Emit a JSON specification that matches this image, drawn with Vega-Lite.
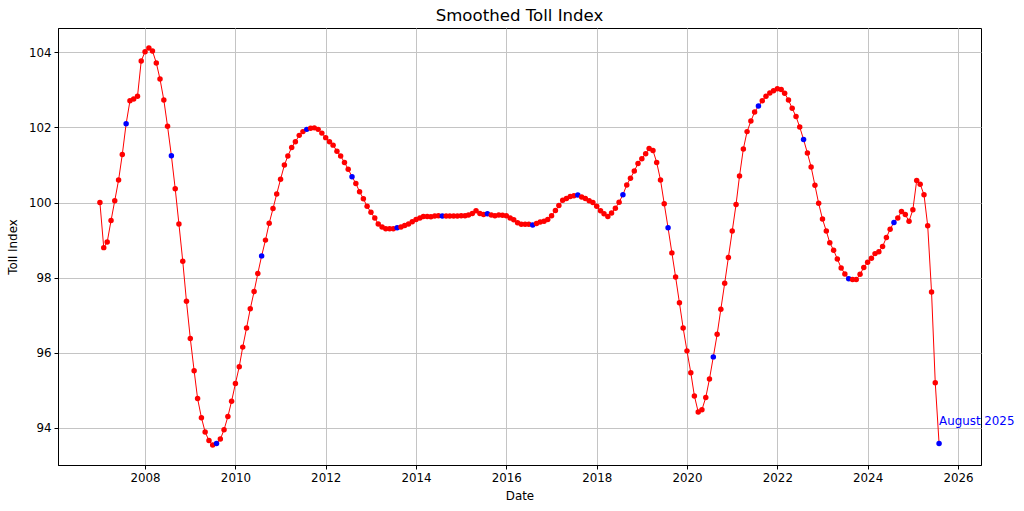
{
  "$schema": "https://vega.github.io/schema/vega-lite/v6.json",
  "width": 923,
  "height": 437,
  "autosize": "none",
  "padding": {"left": 58, "top": 28, "right": 43, "bottom": 46},
  "background": "white",
  "title": {"text": "Smoothed Toll Index", "fontSize": 16.6, "fontWeight": "normal", "font": "DejaVu Sans", "color": "black", "offset": 3, "anchor": "middle"},
  "config": {
    "font": "DejaVu Sans",
    "view": {"stroke": "black", "strokeWidth": 1},
    "axis": {
      "labelFont": "DejaVu Sans", "labelFontSize": 11.85, "labelColor": "black",
      "titleFont": "DejaVu Sans", "titleFontSize": 11.85, "titleFontWeight": "normal", "titleColor": "black",
      "tickColor": "black", "tickSize": 4, "labelPadding": 3,
      "domainColor": "black", "domainWidth": 1,
      "gridColor": "#c4c4c4", "gridWidth": 1
    }
  },
  "data": {"values": [
    {"date":"2007-01-01","value":100.0},{"date":"2007-02-01","value":98.8},{"date":"2007-03-01","value":98.95},{"date":"2007-04-01","value":99.52},{"date":"2007-05-01","value":100.05},{"date":"2007-06-01","value":100.6},{"date":"2007-07-01","value":101.28},{"date":"2007-08-01","value":102.1},{"date":"2007-09-01","value":102.71},{"date":"2007-10-01","value":102.76},{"date":"2007-11-01","value":102.83},{"date":"2007-12-01","value":103.77},
    {"date":"2008-01-01","value":104.02},{"date":"2008-02-01","value":104.12},{"date":"2008-03-01","value":104.04},{"date":"2008-04-01","value":103.72},{"date":"2008-05-01","value":103.29},{"date":"2008-06-01","value":102.73},{"date":"2008-07-01","value":102.03},{"date":"2008-08-01","value":101.25},{"date":"2008-09-01","value":100.37},{"date":"2008-10-01","value":99.43},{"date":"2008-11-01","value":98.44},{"date":"2008-12-01","value":97.37},
    {"date":"2009-01-01","value":96.38},{"date":"2009-02-01","value":95.52},{"date":"2009-03-01","value":94.78},{"date":"2009-04-01","value":94.27},{"date":"2009-05-01","value":93.89},{"date":"2009-06-01","value":93.66},{"date":"2009-07-01","value":93.54},{"date":"2009-08-01","value":93.58},{"date":"2009-09-01","value":93.7},{"date":"2009-10-01","value":93.95},{"date":"2009-11-01","value":94.3},{"date":"2009-12-01","value":94.71},
    {"date":"2010-01-01","value":95.18},{"date":"2010-02-01","value":95.63},{"date":"2010-03-01","value":96.15},{"date":"2010-04-01","value":96.66},{"date":"2010-05-01","value":97.17},{"date":"2010-06-01","value":97.63},{"date":"2010-07-01","value":98.11},{"date":"2010-08-01","value":98.58},{"date":"2010-09-01","value":99.0},{"date":"2010-10-01","value":99.45},{"date":"2010-11-01","value":99.84},{"date":"2010-12-01","value":100.23},
    {"date":"2011-01-01","value":100.62},{"date":"2011-02-01","value":101.0},{"date":"2011-03-01","value":101.24},{"date":"2011-04-01","value":101.47},{"date":"2011-05-01","value":101.62},{"date":"2011-06-01","value":101.79},{"date":"2011-07-01","value":101.89},{"date":"2011-08-01","value":101.95},{"date":"2011-09-01","value":101.98},{"date":"2011-10-01","value":101.99},{"date":"2011-11-01","value":101.95},{"date":"2011-12-01","value":101.85},
    {"date":"2012-01-01","value":101.73},{"date":"2012-02-01","value":101.62},{"date":"2012-03-01","value":101.53},{"date":"2012-04-01","value":101.37},{"date":"2012-05-01","value":101.24},{"date":"2012-06-01","value":101.07},{"date":"2012-07-01","value":100.89},{"date":"2012-08-01","value":100.69},{"date":"2012-09-01","value":100.51},{"date":"2012-10-01","value":100.29},{"date":"2012-11-01","value":100.1},{"date":"2012-12-01","value":99.9},
    {"date":"2013-01-01","value":99.74},{"date":"2013-02-01","value":99.59},{"date":"2013-03-01","value":99.43},{"date":"2013-04-01","value":99.35},{"date":"2013-05-01","value":99.3},{"date":"2013-06-01","value":99.3},{"date":"2013-07-01","value":99.3},{"date":"2013-08-01","value":99.33},{"date":"2013-09-01","value":99.35},{"date":"2013-10-01","value":99.39},{"date":"2013-11-01","value":99.43},{"date":"2013-12-01","value":99.49},
    {"date":"2014-01-01","value":99.55},{"date":"2014-02-01","value":99.59},{"date":"2014-03-01","value":99.63},{"date":"2014-04-01","value":99.63},{"date":"2014-05-01","value":99.62},{"date":"2014-06-01","value":99.64},{"date":"2014-07-01","value":99.65},{"date":"2014-08-01","value":99.64},{"date":"2014-09-01","value":99.64},{"date":"2014-10-01","value":99.64},{"date":"2014-11-01","value":99.64},{"date":"2014-12-01","value":99.64},
    {"date":"2015-01-01","value":99.65},{"date":"2015-02-01","value":99.65},{"date":"2015-03-01","value":99.67},{"date":"2015-04-01","value":99.71},{"date":"2015-05-01","value":99.78},{"date":"2015-06-01","value":99.71},{"date":"2015-07-01","value":99.68},{"date":"2015-08-01","value":99.7},{"date":"2015-09-01","value":99.67},{"date":"2015-10-01","value":99.65},{"date":"2015-11-01","value":99.67},{"date":"2015-12-01","value":99.66},
    {"date":"2016-01-01","value":99.65},{"date":"2016-02-01","value":99.59},{"date":"2016-03-01","value":99.54},{"date":"2016-04-01","value":99.46},{"date":"2016-05-01","value":99.42},{"date":"2016-06-01","value":99.42},{"date":"2016-07-01","value":99.42},{"date":"2016-08-01","value":99.4},{"date":"2016-09-01","value":99.44},{"date":"2016-10-01","value":99.48},{"date":"2016-11-01","value":99.5},{"date":"2016-12-01","value":99.55},
    {"date":"2017-01-01","value":99.65},{"date":"2017-02-01","value":99.79},{"date":"2017-03-01","value":99.92},{"date":"2017-04-01","value":100.06},{"date":"2017-05-01","value":100.11},{"date":"2017-06-01","value":100.16},{"date":"2017-07-01","value":100.18},{"date":"2017-08-01","value":100.2},{"date":"2017-09-01","value":100.15},{"date":"2017-10-01","value":100.11},{"date":"2017-11-01","value":100.05},{"date":"2017-12-01","value":100.0},
    {"date":"2018-01-01","value":99.9},{"date":"2018-02-01","value":99.78},{"date":"2018-03-01","value":99.7},{"date":"2018-04-01","value":99.63},{"date":"2018-05-01","value":99.72},{"date":"2018-06-01","value":99.85},{"date":"2018-07-01","value":100.01},{"date":"2018-08-01","value":100.21},{"date":"2018-09-01","value":100.47},{"date":"2018-10-01","value":100.65},{"date":"2018-11-01","value":100.84},{"date":"2018-12-01","value":101.04},
    {"date":"2019-01-01","value":101.17},{"date":"2019-02-01","value":101.3},{"date":"2019-03-01","value":101.44},{"date":"2019-04-01","value":101.39},{"date":"2019-05-01","value":101.07},{"date":"2019-06-01","value":100.6},{"date":"2019-07-01","value":99.97},{"date":"2019-08-01","value":99.33},{"date":"2019-09-01","value":98.66},{"date":"2019-10-01","value":98.02},{"date":"2019-11-01","value":97.33},{"date":"2019-12-01","value":96.66},
    {"date":"2020-01-01","value":96.05},{"date":"2020-02-01","value":95.47},{"date":"2020-03-01","value":94.85},{"date":"2020-04-01","value":94.42},{"date":"2020-05-01","value":94.48},{"date":"2020-06-01","value":94.81},{"date":"2020-07-01","value":95.3},{"date":"2020-08-01","value":95.89},{"date":"2020-09-01","value":96.49},{"date":"2020-10-01","value":97.16},{"date":"2020-11-01","value":97.85},{"date":"2020-12-01","value":98.54},
    {"date":"2021-01-01","value":99.24},{"date":"2021-02-01","value":99.95},{"date":"2021-03-01","value":100.71},{"date":"2021-04-01","value":101.43},{"date":"2021-05-01","value":101.89},{"date":"2021-06-01","value":102.17},{"date":"2021-07-01","value":102.41},{"date":"2021-08-01","value":102.57},{"date":"2021-09-01","value":102.71},{"date":"2021-10-01","value":102.83},{"date":"2021-11-01","value":102.92},{"date":"2021-12-01","value":102.98},
    {"date":"2022-01-01","value":103.03},{"date":"2022-02-01","value":103.01},{"date":"2022-03-01","value":102.91},{"date":"2022-04-01","value":102.73},{"date":"2022-05-01","value":102.51},{"date":"2022-06-01","value":102.29},{"date":"2022-07-01","value":102.01},{"date":"2022-08-01","value":101.68},{"date":"2022-09-01","value":101.32},{"date":"2022-10-01","value":100.95},{"date":"2022-11-01","value":100.46},{"date":"2022-12-01","value":99.98},
    {"date":"2023-01-01","value":99.56},{"date":"2023-02-01","value":99.24},{"date":"2023-03-01","value":98.93},{"date":"2023-04-01","value":98.73},{"date":"2023-05-01","value":98.5},{"date":"2023-06-01","value":98.26},{"date":"2023-07-01","value":98.1},{"date":"2023-08-01","value":97.97},{"date":"2023-09-01","value":97.95},{"date":"2023-10-01","value":97.95},{"date":"2023-11-01","value":98.09},{"date":"2023-12-01","value":98.27},
    {"date":"2024-01-01","value":98.41},{"date":"2024-02-01","value":98.52},{"date":"2024-03-01","value":98.64},{"date":"2024-04-01","value":98.69},{"date":"2024-05-01","value":98.83},{"date":"2024-06-01","value":99.07},{"date":"2024-07-01","value":99.29},{"date":"2024-08-01","value":99.47},{"date":"2024-09-01","value":99.59},{"date":"2024-10-01","value":99.76},{"date":"2024-11-01","value":99.68},{"date":"2024-12-01","value":99.5},
    {"date":"2025-01-01","value":99.81},{"date":"2025-02-01","value":100.59},{"date":"2025-03-01","value":100.49},{"date":"2025-04-01","value":100.21},{"date":"2025-05-01","value":99.38},{"date":"2025-06-01","value":97.62},{"date":"2025-07-01","value":95.2},{"date":"2025-08-01","value":93.58}
  ]},
  "encoding": {
    "x": {
      "field": "date", "type": "temporal", "title": "Date",
      "scale": {"domain": [{"year": 2006, "month": 1, "date": 27}, {"year": 2026, "month": 7, "date": 6}], "nice": false},
      "axis": {"values": [{"year": 2008}, {"year": 2010}, {"year": 2012}, {"year": 2014}, {"year": 2016}, {"year": 2018}, {"year": 2020}, {"year": 2022}, {"year": 2024}, {"year": 2026}], "format": "%Y", "grid": true, "titlePadding": 7, "labelFlush": false, "labelOverlap": false}
    },
    "y": {
      "field": "value", "type": "quantitative", "title": "Toll Index",
      "scale": {"domain": [93.01, 104.65], "nice": false, "zero": false},
      "axis": {"values": [94, 96, 98, 100, 102, 104], "grid": true, "titlePadding": 10, "labelFlush": false}
    }
  },
  "layer": [
    {"mark": {"type": "line", "color": "red", "strokeWidth": 1, "clip": true}},
    {"mark": {"type": "point", "filled": true, "size": 30, "opacity": 1},
     "encoding": {"color": {"condition": {"test": "utcmonth(datum.date) == 7", "value": "blue"}, "value": "red"}}},
    {"transform": [{"filter": "utcyear(datum.date) == 2025 && utcmonth(datum.date) == 7"}],
     "mark": {"type": "text", "text": "August 2025", "color": "blue", "fontSize": 11.85, "font": "DejaVu Sans", "align": "left", "baseline": "alphabetic", "dx": 0, "dy": -19}}
  ]
}
